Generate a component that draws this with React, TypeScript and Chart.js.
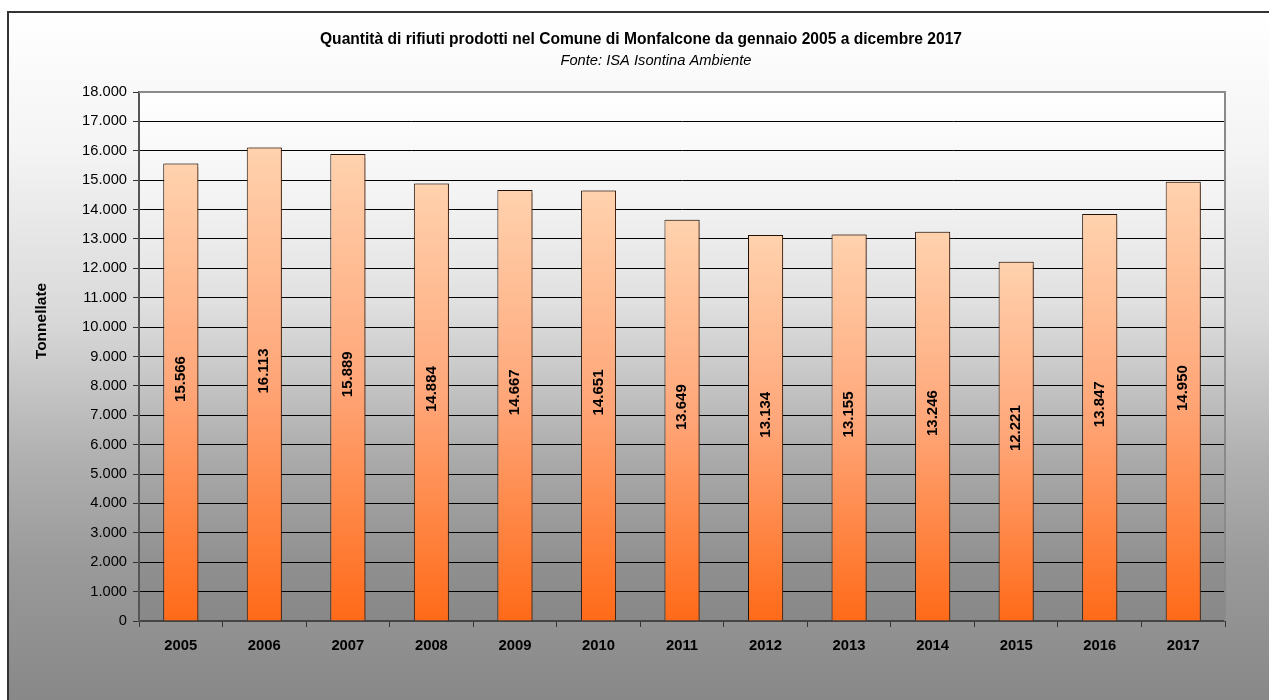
import React, { useEffect, useRef } from "react";
import { Chart, registerables } from "chart.js";

Chart.register(...registerables);

const categories = ["2005", "2006", "2007", "2008", "2009", "2010", "2011", "2012", "2013", "2014", "2015", "2016", "2017"];
const tonnellate = [15566, 16113, 15889, 14884, 14667, 14651, 13649, 13134, 13155, 13246, 12221, 13847, 14950];
const titleText = "Quantità di rifiuti prodotti nel Comune di Monfalcone da gennaio 2005 a dicembre 2017";
const subtitleText = "Fonte: ISA Isontina Ambiente";
const yAxisTitle = "Tonnellate";
const yMin = 0;
const yMax = 18000;
const yStep = 1000;

const FONT = "'Liberation Sans', Arial, sans-serif";

function fmt(v: number): string {
  return String(Math.round(v)).replace(/\B(?=(\d{3})+(?!\d))/g, ".");
}

export default function App() {
  const ref = useRef<HTMLCanvasElement | null>(null);

  useEffect(() => {
    const canvas = ref.current;
    if (!canvas) return;

    const backgroundPlugin = {
      id: "bgPlugin",
      beforeDraw(chart: any) {
        const ctx = chart.ctx;
        const W = chart.width;
        const H = chart.height;
        ctx.save();
        const g = ctx.createLinearGradient(0, 11, 0, H);
        g.addColorStop(0, "#ffffff");
        g.addColorStop(0.2, "#f4f4f4");
        g.addColorStop(0.45, "#d8d8d8");
        g.addColorStop(0.65, "#b0b0b0");
        g.addColorStop(0.8, "#9a9a9a");
        g.addColorStop(1, "#888888");
        ctx.fillStyle = g;
        ctx.fillRect(0, 0, W, H);
        ctx.fillStyle = "#ffffff";
        ctx.fillRect(0, 0, W, 11);
        ctx.fillRect(0, 0, 7, H);
        // frame
        ctx.strokeStyle = "#333333";
        ctx.lineWidth = 2;
        ctx.beginPath();
        ctx.moveTo(8, H + 5);
        ctx.lineTo(8, 12);
        ctx.lineTo(W + 5, 12);
        ctx.stroke();

        // plot area gradient
        const a = chart.chartArea;
        const pg = ctx.createLinearGradient(0, a.top, 0, a.bottom);
        pg.addColorStop(0, "#ffffff");
        pg.addColorStop(0.2, "#f3f3f3");
        pg.addColorStop(0.4, "#e0e0e0");
        pg.addColorStop(0.7, "#a9a9a9");
        pg.addColorStop(0.9, "#8f8f8f");
        pg.addColorStop(1, "#888888");
        ctx.fillStyle = pg;
        ctx.fillRect(a.left, a.top, a.right - a.left, a.bottom - a.top);

        // titles
        ctx.fillStyle = "#000000";
        ctx.textAlign = "center";
        ctx.textBaseline = "middle";
        ctx.font = `bold 15.6px ${FONT}`;
        ctx.fillText(titleText, 641, 40);
        ctx.font = `italic 14.7px ${FONT}`;
        ctx.fillText(subtitleText, 656, 61);

        ctx.save();
        ctx.translate(42, 321);
        ctx.rotate(-Math.PI / 2);
        ctx.font = `bold 15.5px ${FONT}`;
        ctx.fillText(yAxisTitle, 0, 0);
        ctx.restore();
        ctx.restore();
      },
      beforeDatasetsDraw(chart: any) {
        const ctx = chart.ctx;
        const a = chart.chartArea;
        ctx.save();
        ctx.strokeStyle = "#8a8a8a";
        ctx.lineWidth = 2;
        ctx.beginPath();
        ctx.moveTo(a.left, a.top);
        ctx.lineTo(a.right, a.top);
        ctx.lineTo(a.right, a.bottom);
        ctx.stroke();
        ctx.restore();
        ctx.save();
        ctx.shadowColor = "rgba(90,45,20,0.65)";
        ctx.shadowOffsetX = 2;
        ctx.shadowOffsetY = 0;
        ctx.shadowBlur = 1;
      },
      afterDatasetsDraw(chart: any) {
        chart.ctx.restore();
      },
      afterDraw(chart: any) {
        const ctx = chart.ctx;
        const meta = chart.getDatasetMeta(0);
        ctx.save();
        ctx.fillStyle = "#000000";
        ctx.font = `bold 15px ${FONT}`;
        ctx.textAlign = "center";
        ctx.textBaseline = "middle";
        meta.data.forEach((bar: any, i: number) => {
          const cy = (bar.y + bar.base) / 2 - 13;
          ctx.save();
          ctx.translate(bar.x, cy);
          ctx.rotate(-Math.PI / 2);
          ctx.fillText(fmt(tonnellate[i]), 0, 0);
          ctx.restore();
        });
        ctx.restore();
      },
    };

    const chart = new Chart(canvas, {
      type: "bar",
      data: {
        labels: categories,
        datasets: [
          {
            data: tonnellate,
            backgroundColor: (c: any) => {
              const ch = c.chart;
              const y = ch.scales && ch.scales.y;
              if (!y || c.parsed == null) return "#ffa070";
              const top = y.getPixelForValue(c.parsed.y);
              const bottom = y.getPixelForValue(0);
              if (!isFinite(top) || !isFinite(bottom)) return "#ffa070";
              const g = ch.ctx.createLinearGradient(0, top, 0, bottom);
              g.addColorStop(0, "#ffd2ae");
              g.addColorStop(0.5, "#ffa577");
              g.addColorStop(1, "#ff6a18");
              return g;
            },
            borderColor: "#1e120a",
            borderWidth: 1,
            borderSkipped: "bottom",
            barPercentage: 0.42,
            categoryPercentage: 1,
          },
        ],
      },
      options: {
        responsive: false,
        animation: false,
        layout: { padding: { left: 0, top: 92, right: 44, bottom: 0 } },
        plugins: {
          legend: { display: false },
          tooltip: { enabled: false },
          title: { display: false },
        },
        scales: {
          x: {
            offset: true,
            grid: {
              offset: true,
              drawOnChartArea: false,
              drawTicks: true,
              tickLength: 6,
              tickColor: "#333333",
            },
            border: { color: "#444444", width: 2 },
            ticks: {
              color: "#000000",
              font: { family: FONT, size: 14.8, weight: "bold" },
              padding: 10,
              maxRotation: 0,
            },
            afterFit: (s: any) => {
              s.height = 79;
            },
          },
          y: {
            min: yMin,
            max: yMax,
            ticks: {
              stepSize: yStep,
              color: "#000000",
              font: { family: FONT, size: 14.7 },
              padding: 6,
              callback: (v: any) => fmt(Number(v)),
            },
            grid: {
              color: (c: any) => (c.tick && c.tick.value === yMax ? "rgba(0,0,0,0)" : "#000000"),
              lineWidth: 1,
              tickLength: 6,
              tickColor: "#333333",
            },
            border: { color: "#555555", width: 2 },
            afterFit: (s: any) => {
              s.width = 139;
            },
          },
        },
      },
      plugins: [backgroundPlugin],
    } as any);

    return () => chart.destroy();
  }, []);

  return (
    <div style={{ position: "fixed", left: 0, top: 0, width: 1269, height: 700 }}>
      <canvas ref={ref} width={1269} height={700} style={{ display: "block" }} />
    </div>
  );
}
